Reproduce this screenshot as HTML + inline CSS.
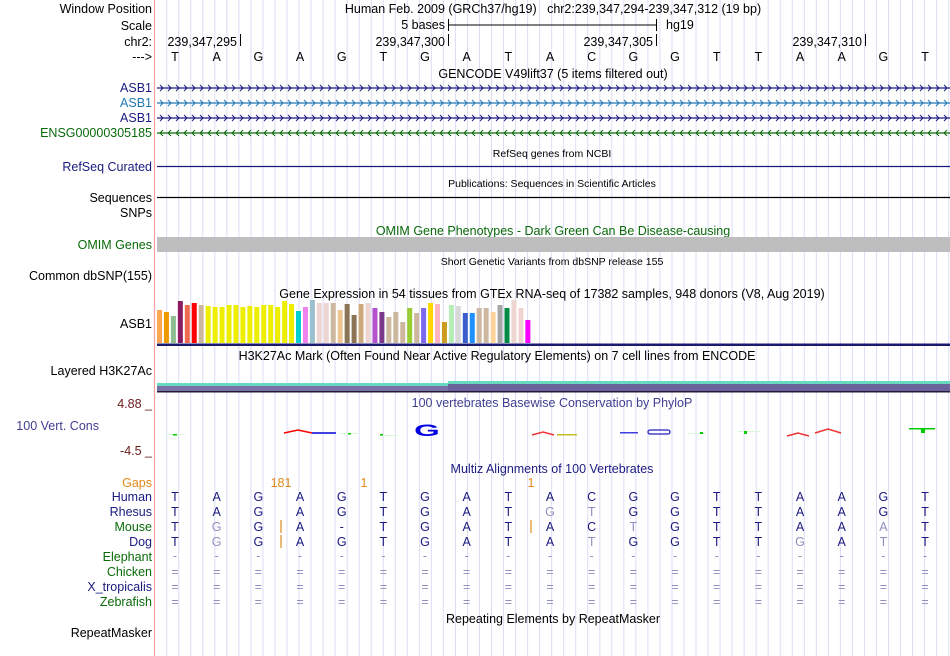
<!DOCTYPE html>
<html><head><meta charset="utf-8"><style>
html,body{margin:0;padding:0;background:#fff;width:950px;height:656px;overflow:hidden}
svg{display:block;font-family:"Liberation Sans",sans-serif}
</style></head><body>
<svg id="c" width="950" height="656" viewBox="0 0 950 656">
<g id="grid"></g>
<line x1="154.5" y1="0" x2="154.5" y2="656" stroke="#f4a0a0" stroke-width="1.2"/>
<g id="labels" font-size="12.5" text-anchor="end">
<text x="152" y="13" fill="#000">Window Position</text>
<text x="152" y="30" fill="#000">Scale</text>
<text x="152" y="46" fill="#000">chr2:</text>
<text x="152" y="61" fill="#000">---&gt;</text>
<text x="152" y="92" fill="#1a1a80">ASB1</text>
<text x="152" y="107" fill="#1f77b4">ASB1</text>
<text x="152" y="122" fill="#1a1a80">ASB1</text>
<text x="152" y="137" fill="#0a6a0a">ENSG00000305185</text>
<text x="152" y="171" fill="#1a1a80">RefSeq Curated</text>
<text x="152" y="202" fill="#000">Sequences</text>
<text x="152" y="217" fill="#000">SNPs</text>
<text x="152" y="249" fill="#0a6a0a">OMIM Genes</text>
<text x="152" y="280" fill="#000">Common dbSNP(155)</text>
<text x="152" y="328" fill="#000">ASB1</text>
<text x="152" y="375" fill="#000">Layered H3K27Ac</text>
<text x="152" y="408" fill="#6b1a1a">4.88 _</text>
<text x="99" y="430" fill="#3f3f90">100 Vert. Cons</text>
<text x="152" y="455" fill="#6b1a1a">-4.5 _</text>
<text x="152" y="487" fill="#e08a1a">Gaps</text>
<text x="152" y="501" fill="#1a1a80">Human</text>
<text x="152" y="516" fill="#1a1a80">Rhesus</text>
<text x="152" y="531" fill="#0a6a0a">Mouse</text>
<text x="152" y="546" fill="#1a1a80">Dog</text>
<text x="152" y="561" fill="#0a6a0a">Elephant</text>
<text x="152" y="576" fill="#0a6a0a">Chicken</text>
<text x="152" y="591" fill="#1a1a80">X_tropicalis</text>
<text x="152" y="606" fill="#0a6a0a">Zebrafish</text>
<text x="152" y="637" fill="#000">RepeatMasker</text>
</g>
<g font-size="12.5" text-anchor="middle">
<text x="553" y="13" style="white-space:pre">Human Feb. 2009 (GRCh37/hg19)   chr2:239,347,294-239,347,312 (19 bp)</text>
<text x="553" y="78">GENCODE V49lift37 (5 items filtered out)</text>
<text x="552" y="298">Gene Expression in 54 tissues from GTEx RNA-seq of 17382 samples, 948 donors (V8, Aug 2019)</text>
<text x="497" y="360">H3K27Ac Mark (Often Found Near Active Regulatory Elements) on 7 cell lines from ENCODE</text>
<text x="553" y="235" fill="#0a6a0a">OMIM Gene Phenotypes - Dark Green Can Be Disease-causing</text>
<text x="552" y="407" fill="#3f3f90">100 vertebrates Basewise Conservation by PhyloP</text>
<text x="552" y="473" fill="#1a1a80">Multiz Alignments of 100 Vertebrates</text>
<text x="553" y="623">Repeating Elements by RepeatMasker</text>
</g>
<g font-size="10.5" text-anchor="middle">
<text x="552" y="157">RefSeq genes from NCBI</text>
<text x="552" y="187">Publications: Sequences in Scientific Articles</text>
<text x="552" y="265">Short Genetic Variants from dbSNP release 155</text>
</g>
<g font-size="12.5">
<text x="445" y="29" text-anchor="end">5 bases</text>
<line x1="448" y1="25" x2="656" y2="25" stroke="#000"/>
<line x1="448.5" y1="19" x2="448.5" y2="31" stroke="#000"/>
<line x1="656.5" y1="19" x2="656.5" y2="31" stroke="#000"/>
<text x="666" y="29">hg19</text>
</g>
<g id="ruler" font-size="12.5" text-anchor="end"></g>
<g id="bases" font-size="12.5" text-anchor="middle"></g>
<g id="genes"></g>
<line x1="157" y1="166.5" x2="950" y2="166.5" stroke="#1a1a80" stroke-width="1.2"/>
<line x1="157" y1="197.5" x2="950" y2="197.5" stroke="#000" stroke-width="1.2"/>
<rect x="157" y="237" width="793" height="15" fill="#bebebe"/>
<g id="gtex"></g>
<rect x="157" y="343.5" width="793" height="2.5" fill="#1a1a70"/>
<g>
<rect x="157" y="383" width="291" height="3" fill="#66d9c0"/>
<rect x="448" y="381" width="502" height="3" fill="#66d9c0"/>
<rect x="157" y="386" width="291" height="5" fill="#7a72a6"/>
<rect x="448" y="384" width="502" height="7" fill="#6a629a"/>
<rect x="157" y="391" width="793" height="1.5" fill="#2a1a3a"/>
</g>
<g id="cons">
<rect x="165" y="434" width="20" height="1" fill="#d8f8d8"/><rect x="173" y="434" width="4" height="1.5" fill="#0c0"/>
<path d="M284 433 L298 430 L312 433" stroke="#f00" stroke-width="1.5" fill="none"/>
<rect x="312" y="432" width="24" height="2" fill="#4040e0"/>
<rect x="340" y="433" width="18" height="1" fill="#d8f8d8"/><rect x="348" y="433" width="3" height="1.5" fill="#0c0"/>
<text x="0" y="0" font-size="22" font-weight="bold" fill="#0000e0" text-anchor="middle" transform="translate(427,436) scale(1.5,0.75)">G</text>
<rect x="380" y="435" width="18" height="1" fill="#d8f8d8"/><rect x="380" y="434" width="3" height="1.5" fill="#0c0"/>
<path d="M532 435 L543 432 L554 435" stroke="#e33" stroke-width="1.5" fill="none"/>
<rect x="557" y="434" width="20" height="1.5" fill="#c0c020"/>
<rect x="620" y="432" width="18" height="1.5" fill="#4040e0"/>
<rect x="648" y="430" width="22" height="4" fill="none" stroke="#2020c0" stroke-width="1.3" rx="2"/>
<rect x="688" y="433" width="18" height="1" fill="#d8f8d8"/><rect x="700" y="432" width="3" height="2" fill="#0c0"/>
<rect x="738" y="431" width="22" height="1" fill="#d8f8d8"/><rect x="744" y="431" width="3" height="3" fill="#0c0"/>
<path d="M787 436 L798 433 L809 436" stroke="#e33" stroke-width="1.5" fill="none"/>
<path d="M815 433 L828 429 L841 433" stroke="#e33" stroke-width="1.5" fill="none"/>
<rect x="909" y="428" width="26" height="1.5" fill="#0c0"/><rect x="921" y="428" width="4" height="5" fill="#0c0"/>
</g>
<g id="aln" font-size="12.5" text-anchor="middle"></g>
<script>
const NS='http://www.w3.org/2000/svg';
function mk(p,tag,a,txt){const e=document.createElementNS(NS,tag);for(const k in a)e.setAttribute(k,a[k]);if(txt!==undefined)e.textContent=txt;p.appendChild(e);return e;}
const grid=document.getElementById('grid');
for(let x=166.7;x<950;x+=12.03){const l=mk(grid,'line',{x1:x,y1:0,x2:x,y2:656,stroke:'#dcdcf6','stroke-width':1});

}
const seq=['T','A','G','A','G','T','G','A','T','A','C','G','G','T','T','A','A','G','T'];
const bx=i=>175+i*41.67;
const bases=document.getElementById('bases');
seq.forEach((b,i)=>{const t=mk(bases,'text',{x:bx(i),y:61},b);

});
const rulerLabels=['239,347,295','239,347,300','239,347,305','239,347,310'];
const rulerTicks=[240,448,656,865];
const ruler=document.getElementById('ruler');
rulerLabels.forEach((s,i)=>{const t=mk(ruler,'text',{x:rulerTicks[i]-3,y:46},s);


mk(ruler,'line',{x1:rulerTicks[i]+0.5,y1:34,x2:rulerTicks[i]+0.5,y2:46,stroke:'#000'});});
const genes=document.getElementById('genes');
const gtracks=[[88,'#1a1a80',1],[103,'#1f77b4',1],[118,'#1a1a80',1],[133,'#0a6a0a',-1]];
gtracks.forEach(([y,c,d],gi)=>{const g=mk(genes,'g',{});


mk(g,'line',{x1:157,y1:y,x2:950,y2:y,stroke:c,'stroke-width':1.2});
let p='';for(let x=160;x<950;x+=8){p+=d>0?`M${x} ${y-3}L${x+3} ${y}L${x} ${y+3}`:`M${x+3} ${y-3}L${x} ${y}L${x+3} ${y+3}`;}
mk(g,'path',{d:p,stroke:c,fill:'none','stroke-width':1});});
const gtexValues=[33,31,27,42,38,40,38,37,36,36,38,38,36,37,36,38,38,36,42,39,32,36,43,40,40,40,33,39,28,39,40,35,31,26,31,21,35,30,35,40,39,21,38,37,30,30,35,35,31,38,35,43,35,23];
const gtexColors=['#FFA54F','#EE9A00','#8FBC8F','#8B1C62','#EE6A50','#FF0000','#CDB79E','#EEEE00','#EEEE00','#EEEE00','#EEEE00','#EEEE00','#EEEE00','#EEEE00','#EEEE00','#EEEE00','#EEEE00','#EEEE00','#EEEE00','#EEEE00','#00CED1','#EE82EE','#9AC0CD','#EED5D2','#EED5D2','#CDB79E','#EEC591','#8B7355','#8B7355','#CDAA7D','#EED5D2','#B452CD','#7A378B','#CDB79E','#CDB79E','#CDB79E','#9ACD32','#CDB79E','#7B68EE','#FFD700','#FFB6C1','#CD9B1D','#B4EEB4','#D9D9D9','#3A5FCD','#1E90FF','#CDB79E','#CDB79E','#FFD39B','#A6A6A6','#008B45','#EED5D2','#EED5D2','#FF00FF'];
const gtex=document.getElementById('gtex');
const gx=i=>157+i*6.95, gy=v=>343-v;
gtexValues.forEach((v,i)=>{const r=mk(gtex,'rect',{x:gx(i),y:gy(v),width:5,height:343-gy(v),fill:gtexColors[i]});

});
const aln=document.getElementById('aln');
const rows={501:seq.join(''),516:'TAGAGTGATGTGGTTAAGT',531:'TGGA-TGATACTGTTAAAT',546:'TGGAGTGATATGGTTGATT'};
Object.keys(rows).forEach(y=>{rows[y].split('').forEach((b,i)=>{const diff=b!==seq[i]&&b!=='-';
const t=mk(aln,'text',{x:bx(i),y:y,fill:diff?'#9090c0':'#1a1a80'},b);

});});
for(let i=0;i<19;i++){mk(aln,'text',{x:bx(i),y:560,fill:'#9090c0'},'-');
[576,591,606].forEach(y=>mk(aln,'text',{x:bx(i),y:y,fill:'#9090c0'},'='));}
[[281,'181'],[364,'1'],[531,'1']].forEach(([x,s])=>{const t=mk(aln,'text',{x:x,y:487,fill:'#e08a1a'},s);

});
[[281,520],[281,535],[531,520]].forEach(([x,y])=>mk(aln,'line',{x1:x,y1:y,x2:x,y2:y+13,stroke:'#e08a1a','stroke-width':1.2}));
</script>
</svg>
</body></html>
